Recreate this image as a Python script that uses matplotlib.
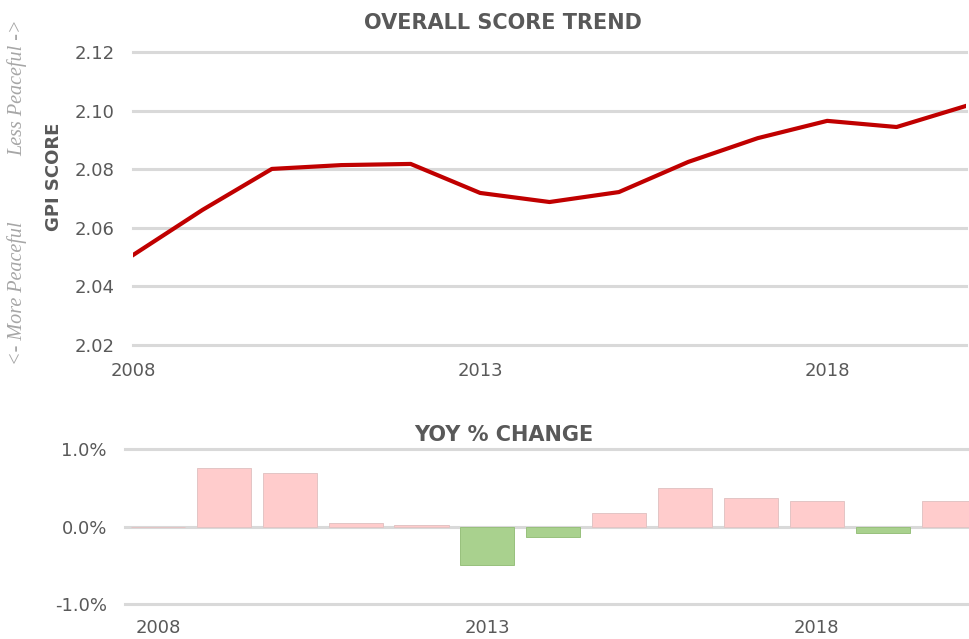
import numpy as np
import matplotlib
matplotlib.use("Agg")
import matplotlib.pyplot as plt

# data
years = [2008, 2009, 2010, 2011, 2012, 2013, 2014, 2015, 2016, 2017, 2018, 2019, 2020]
gpi_score = [2.0507, 2.0661, 2.0801, 2.0814, 2.0818, 2.0719, 2.0688, 2.0722,
             2.0825, 2.0906, 2.0965, 2.0944, 2.1016]
yoy_change = [0.0, 0.76, 0.69, 0.05, 0.02, -0.50, -0.13, 0.17,
              0.50, 0.37, 0.33, -0.09, 0.33]
year_ticks = [2008, 2013, 2018]
score_ticks = [2.02, 2.04, 2.06, 2.08, 2.10, 2.12]
pct_ticks = [-1.0, 0.0, 1.0]

txt = '#595959'
grid = '#d9d9d9'
pink = '#ffcccc'
green = '#a9d18e'
red = '#c00000'

plt.rcParams['font.family'] = ['DejaVu Sans']

fig = plt.figure(figsize=(9.69, 6.39), dpi=100)

# top chart - overall score
ax1 = fig.add_axes([0.1373, 0.4601, 0.8596, 0.4585])
for v in score_ticks:
    ax1.axhline(v, color=grid, lw=2.2, zorder=1, clip_on=False)
ax1.plot(years, gpi_score, color=red, lw=3, zorder=3, solid_joinstyle='round')
ax1.set_xlim(years[0], years[-1])
ax1.set_ylim(score_ticks[0], score_ticks[-1])
ax1.set_xticks(year_ticks)
ax1.set_xticklabels([str(y) for y in year_ticks])
ax1.set_yticks(score_ticks)
ax1.set_yticklabels(['%.2f' % v for v in score_ticks])
ax1.tick_params(axis='x', length=0, pad=12, labelsize=13, labelcolor=txt)
ax1.tick_params(axis='y', length=0, pad=13, labelsize=13, labelcolor=txt)
for s in ax1.spines.values():
    s.set_visible(False)
fig.text(503 / 969, 1 - 23 / 639, 'OVERALL SCORE TREND', ha='center', va='center',
         fontsize=15, fontweight='bold', color=txt)
ax1.set_ylabel('GPI SCORE', fontsize=13, fontweight='bold', color=txt)
ax1.yaxis.set_label_coords(-(133 - 63) / 833, (345 - 177) / 293)

fig.text(0.018, 1 - 88 / 639, 'Less Peaceful ->', rotation=90, ha='center', va='center',
         family='Liberation Serif', style='italic', fontsize=14.5, color='#a6a6a6')
fig.text(0.018, 1 - 293 / 639, '<- More Peaceful', rotation=90, ha='center', va='center',
         family='Liberation Serif', style='italic', fontsize=14.5, color='#a6a6a6')

# bottom chart - yoy change
ax2 = fig.add_axes([0.129, 0.0548, 0.871, 0.2425])
idx = np.arange(len(years))
for v in pct_ticks:
    ax2.axhline(v, color=grid, lw=2.2, zorder=1, clip_on=False)
cols = [pink if v >= 0 else green for v in yoy_change]
edges = ['#e3c4c4' if v >= 0 else '#98c07c' for v in yoy_change]
ax2.bar(idx, yoy_change, width=0.82, color=cols, edgecolor=edges, linewidth=0.7, zorder=2)
ax2.set_xlim(-0.5, 12.31)
ax2.set_ylim(pct_ticks[0], pct_ticks[-1])
ax2.set_xticks([years.index(y) for y in year_ticks])
ax2.set_xticklabels([str(y) for y in year_ticks])
ax2.set_yticks(pct_ticks)
ax2.set_yticklabels(['%.1f%%' % v for v in pct_ticks])
ax2.tick_params(axis='x', length=0, pad=11, labelsize=13, labelcolor=txt)
ax2.tick_params(axis='y', length=0, pad=13, labelsize=13, labelcolor=txt)
for s in ax2.spines.values():
    s.set_visible(False)
fig.text(504 / 969, 1 - 435 / 639, 'YOY % CHANGE', ha='center', va='center',
         fontsize=15, fontweight='bold', color=txt)

plt.savefig('out.png', dpi=100)
